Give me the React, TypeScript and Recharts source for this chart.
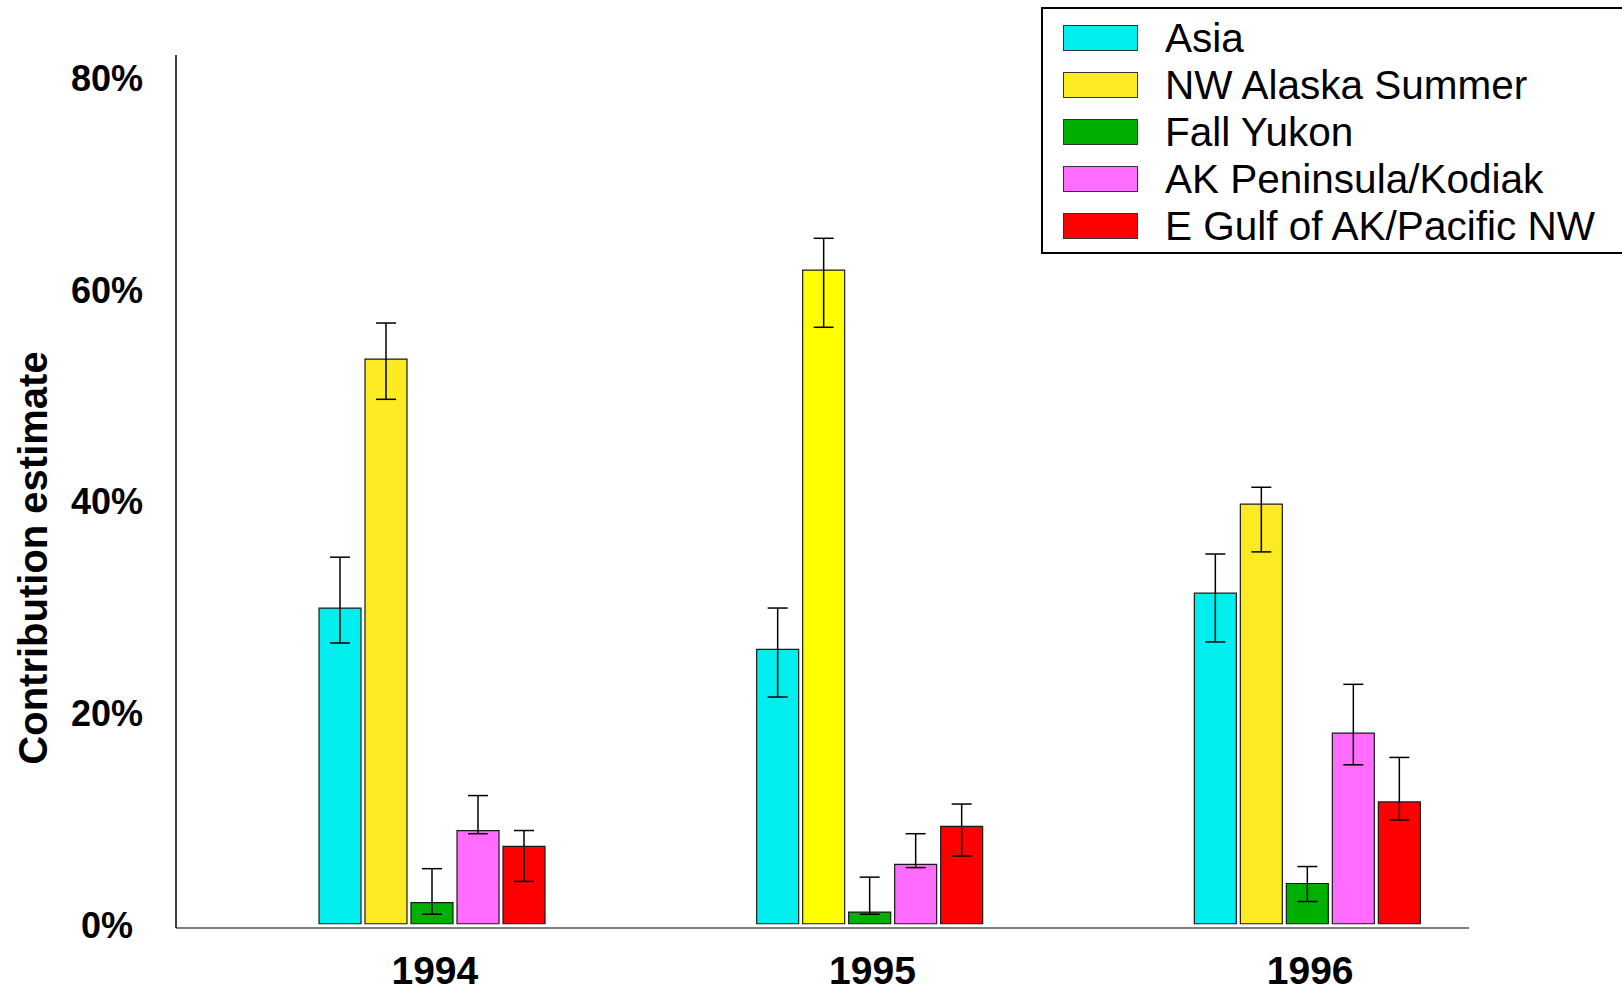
import React from "react";
import { BarChart, Bar, XAxis, YAxis, ErrorBar, Cell } from "recharts";

const FONT = "'Liberation Sans', Arial, Helvetica, sans-serif";

// stock-group contribution estimates (%), with 90% interval bounds
const years = ["1994", "1995", "1996"];

const asia = [29.8, 25.9, 31.2];
const asiaLow = [26.5, 21.4, 26.6];
const asiaHigh = [34.6, 29.8, 34.9];

const nwAlaska = [53.3, 61.7, 39.6];
const nwAlaskaLow = [49.5, 56.3, 35.1];
const nwAlaskaHigh = [56.7, 64.7, 41.2];

const fallYukon = [2.0, 1.1, 3.8];
const fallYukonLow = [0.9, 0.9, 2.1];
const fallYukonHigh = [5.2, 4.4, 5.4];

const akPeninsula = [8.8, 5.6, 18.0];
const akPeninsulaLow = [8.5, 5.3, 15.0];
const akPeninsulaHigh = [12.1, 8.5, 22.6];

const eGulf = [7.3, 9.2, 11.5];
const eGulfLow = [4.0, 6.4, 9.8];
const eGulfHigh = [8.8, 11.3, 15.7];

const yTicks = [0, 20, 40, 60, 80];

// the 1995 NW Alaska bar was filled with a brighter yellow
const nwAlaskaFills = ["#FCEB22", "#FFFF00", "#FCEB22"];

const series = [
  { key: "asia", name: "Asia", values: asia, low: asiaLow, high: asiaHigh, color: "#00EEEE" },
  { key: "nwAlaska", name: "NW Alaska Summer", values: nwAlaska, low: nwAlaskaLow, high: nwAlaskaHigh, color: "#FCEB22" },
  { key: "fallYukon", name: "Fall Yukon", values: fallYukon, low: fallYukonLow, high: fallYukonHigh, color: "#00B000" },
  { key: "akPeninsula", name: "AK Peninsula/Kodiak", values: akPeninsula, low: akPeninsulaLow, high: akPeninsulaHigh, color: "#FF6CFF" },
  { key: "eGulf", name: "E Gulf of AK/Pacific NW", values: eGulf, low: eGulfLow, high: eGulfHigh, color: "#FF0000" },
];

const rows = years.map((year, i) => {
  const row: Record<string, any> = { year };
  series.forEach((s) => {
    row[s.key] = s.values[i];
    row[`${s.key}Err`] = [s.values[i] - s.low[i], s.high[i] - s.values[i]];
  });
  return row;
});

const YTick = ({ x, y, payload }: any) => (
  <text x={x} y={y + 2} textAnchor="middle" dominantBaseline="central" fontSize={36} fontWeight="bold" fill="#000" fontFamily={FONT}>
    {payload.value}%
  </text>
);

const XTick = ({ x, y, payload }: any) => (
  <text x={x + 3} y={y} textAnchor="middle" dominantBaseline="central" fontSize={39} fontWeight="bold" fill="#000" fontFamily={FONT}>
    {payload.value}
  </text>
);

const YLabel = ({ viewBox }: any) => {
  const cx = viewBox.x + 33;
  const cy = viewBox.y + 503;
  return (
    <text
      transform={`translate(${cx}, ${cy}) rotate(-90)`}
      textAnchor="middle"
      dominantBaseline="central"
      fontSize={40}
      fontWeight="bold"
      fill="#000"
      fontFamily={FONT}
    >
      Contribution estimate
    </text>
  );
};

function LegendBox() {
  return (
    <div
      style={{
        position: "absolute",
        left: 1041,
        top: 7,
        width: 590,
        height: 247,
        border: "2px solid #000",
        boxSizing: "border-box",
        background: "#fff",
        fontFamily: FONT,
      }}
    >
      {series.map((s, i) => (
        <div
          key={s.key}
          style={{ position: "absolute", left: 20, top: 16 + i * 47, height: 26, display: "flex", alignItems: "center" }}
        >
          <div style={{ width: 73, height: 24, background: s.color, border: "1px solid #333" }} />
          <span style={{ marginLeft: 27, fontSize: 40.5, lineHeight: "26px", whiteSpace: "nowrap", color: "#000" }}>
            {s.name}
          </span>
        </div>
      ))}
    </div>
  );
}

export default function App() {
  return (
    <div style={{ position: "fixed", left: 0, top: 0, width: 1622, height: 992, overflow: "hidden", background: "#fff" }}>
      <BarChart
        width={1622}
        height={992}
        data={rows}
        margin={{ top: 55, right: 153, bottom: 0, left: 0 }}
        barSize={42}
        barGap={4}
      >
        <XAxis
          dataKey="year"
          height={64}
          padding={{ left: 37, right: -57 }}
          axisLine={{ stroke: "#808080", strokeWidth: 2 }}
          tickLine={false}
          tickSize={0}
          tickMargin={42}
          tick={<XTick />}
        />
        <YAxis
          width={176}
          domain={[-0.4, 82]}
          ticks={yTicks}
          allowDataOverflow
          axisLine={{ stroke: "#000", strokeWidth: 1.5 }}
          tickLine={false}
          tickSize={0}
          tickMargin={69}
          tick={<YTick />}
          label={<YLabel />}
        />
        {series.map((s) => (
          <Bar key={s.key} dataKey={s.key} name={s.name} fill={s.color} stroke="#1a1a1a" strokeWidth={1.2} isAnimationActive={false}>
            {s.key === "nwAlaska" && rows.map((r, i) => <Cell key={r.year} fill={nwAlaskaFills[i]} />)}
            <ErrorBar dataKey={`${s.key}Err`} direction="y" width={10} stroke="#000" strokeWidth={1.5} isAnimationActive={false} />
          </Bar>
        ))}
      </BarChart>
      <LegendBox />
    </div>
  );
}
